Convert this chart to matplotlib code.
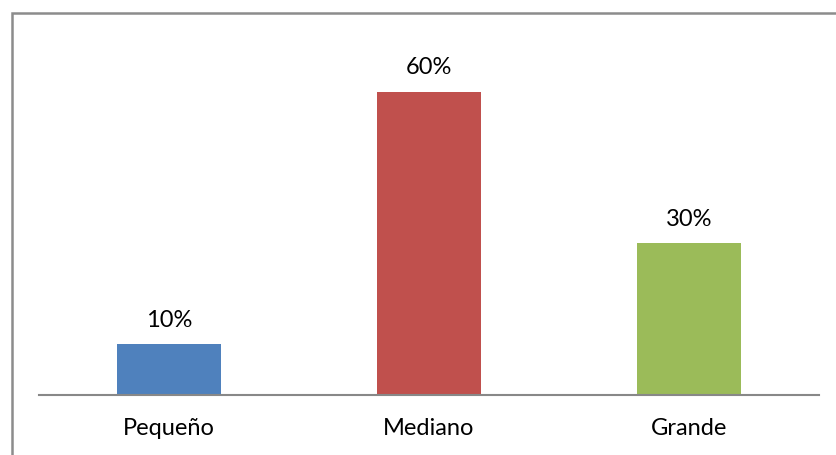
import matplotlib.pyplot as plt
from matplotlib.patches import Rectangle

categorias = ["Pequeño", "Mediano", "Grande"]
porcentajes = [10, 60, 30]
colores = ["#4F81BD", "#C0504D", "#9BBB59"]

plt.rcParams['font.family'] = ['Lato', 'DejaVu Sans']

fig = plt.figure(figsize=(8.36, 4.55), dpi=100)
W, H = 836, 455
# axes: x 39..819 px, baseline at y=394.5, 70% at y=41
ax = fig.add_axes([39 / W, (H - 394.5) / H, 780 / W, 353.5 / H])

x = range(len(categorias))
ax.bar(x, porcentajes, width=0.4, color=colores)
for xi, v in zip(x, porcentajes):
    ax.text(xi, v + 2.6, f"{v}%", ha="center", va="bottom", fontsize=17)

ax.set_xlim(-0.5, 2.5)
ax.set_ylim(0, 70)
ax.set_xticks(list(x))
ax.set_xticklabels(categorias, fontsize=17)
ax.tick_params(axis="x", length=0, pad=17)
ax.set_yticks([])
for s in ["top", "right", "left"]:
    ax.spines[s].set_visible(False)
ax.spines["bottom"].set_color("#888888")
ax.spines["bottom"].set_linewidth(1.5)

# outer chart frame, runs off the right and bottom edges
frame = Rectangle((11.5 / W, -0.1), 1.0, (H - 12.5) / H + 0.1, transform=fig.transFigure,
                  fill=False, edgecolor="#8c8c8c", linewidth=1.8, clip_on=False)
fig.patches.append(frame)

fig.savefig("out.png", dpi=100)
